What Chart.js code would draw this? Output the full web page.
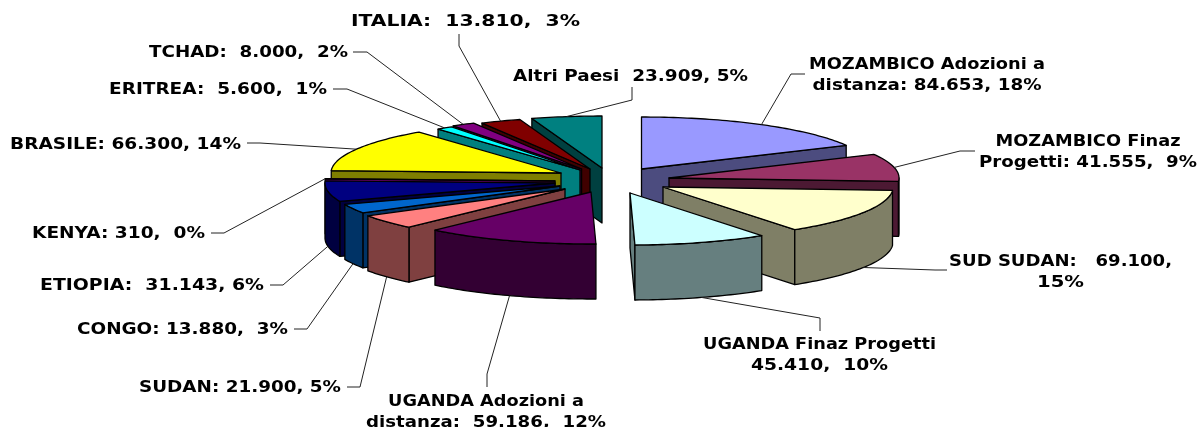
<!DOCTYPE html>
<html>
<head>
<meta charset="utf-8">
<style>html,body{margin:0;padding:0;background:#fff}canvas{display:block}</style>
<script src="https://cdn.jsdelivr.net/npm/chart.js@4/dist/chart.umd.min.js"></script>
</head>
<body>
<canvas id="c" width="1198" height="427"></canvas>
<script>
const categories = ["MOZAMBICO Adozioni a distanza","MOZAMBICO Finaz Progetti","SUD SUDAN","UGANDA Finaz Progetti","UGANDA Adozioni a distanza","SUDAN","CONGO","ETIOPIA","KENYA","BRASILE","ERITREA","TCHAD","ITALIA","Altri Paesi"];
const values = [84653,41555,69100,45410,59186,21900,13880,31143,310,66300,5600,8000,13810,23909];
const colors = ["#9999FF","#993366","#FFFFCC","#CCFFFF","#660066","#FF8080","#0066CC","#000080","#FF00FF","#FFFF00","#00FFFF","#800080","#800000","#008080"];
const labelLines = [
  ["MOZAMBICO Adozioni a","distanza: 84.653, 18%"],
  ["MOZAMBICO Finaz","Progetti: 41.555,  9%"],
  ["SUD SUDAN:   69.100,","15%"],
  ["UGANDA Finaz Progetti","45.410,  10%"],
  ["UGANDA Adozioni a","distanza:  59.186,  12%"],
  ["SUDAN: 21.900, 5%"],
  ["CONGO: 13.880,  3%"],
  ["ETIOPIA:  31.143, 6%"],
  ["KENYA: 310,  0%"],
  ["BRASILE: 66.300, 14%"],
  ["ERITREA:  5.600,  1%"],
  ["TCHAD:  8.000,  2%"],
  ["ITALIA:  13.810,  3%"],
  ["Altri Paesi  23.909, 5%"]
];
// label centre x, first-line middle y
const labelAnchors = [[927,64],[1088,140.5],[1060.5,261],[819.5,344],[486,400.5],[240,387],[182.5,329],[152,285],[118.5,233],[125.5,144],[218,89],[248.5,52],[465.5,21],[630.5,76]];
// rendered width of each label line
const labelWidths = [[236,229],[185,218],[223,47],[233,137],[196,240],[202],[211],[224],[173],[231],[218],[199],[229],[235]];
// leader route from the label back towards the slice
const leaderRoutes = [
  [[805,74],[791,74]],
  [[975,151],[960,151]],
  [[947,270],[935,270]],
  [[820,331],[820,318]],
  [[487,387],[487,374]],
  [[347,387],[360,387]],
  [[294,329],[307,329]],
  [[270,285],[283,285]],
  [[211,233],[224,233]],
  [[247,143],[260,143]],
  [[333,89],[347,89]],
  [[353,52],[367,52]],
  [[459,34],[459,46]],
  [[632,87],[632,100]]
];
// per-slice explosion, relative to the pie centre
const explodeX = [51.5,79,73,40,1,-25,-30,-35,-35,-29,-10,-8.4,0,12];
const explodeY = [-6,3,12,18,17,14,11,8,6,-2,-5,-6,-6,-7];
const RX = 230, RY = 52, DEPTH = 55, LINE_STEP = 21, TEXT_DROP = 1.5;

function shade(hex){
  const n = parseInt(hex.slice(1),16);
  return `rgb(${(n>>16&255)>>1},${(n>>8&255)>>1},${(n&255)>>1})`;
}
const pie3d = {
  id:'pie3d',
  beforeDatasetDraw(chart,args){
    const ctx = chart.ctx, meta = args.meta;
    const slices = meta.data.map((arc,i)=>{
      const p = arc.getProps(['x','y','startAngle','endAngle','outerRadius'],true);
      return {i,cx:p.x+explodeX[i],cy:p.y+explodeY[i],a:p.startAngle,b:p.endAngle,mid:(p.startAngle+p.endAngle)/2};
    });
    const pt = (s,ang,r,z)=>[s.cx+Math.cos(ang)*r*RX, s.cy+Math.sin(ang)*r*RY+z*DEPTH];
    const arcPts = (s,a,b,z)=>{
      const n=Math.max(2,Math.ceil((b-a)/0.02)), o=[];
      for(let k=0;k<=n;k++) o.push(pt(s,a+(b-a)*k/n,1,z));
      return o;
    };
    const poly = (pts,fill)=>{
      ctx.beginPath();
      pts.forEach((q,k)=>k?ctx.lineTo(q[0],q[1]):ctx.moveTo(q[0],q[1]));
      ctx.closePath();ctx.fillStyle=fill;ctx.fill();ctx.stroke();
    };
    ctx.save();
    ctx.lineWidth=1.3;ctx.strokeStyle='#000';ctx.lineJoin='round';
    slices.slice().sort((u,v)=>Math.sin(u.mid)-Math.sin(v.mid)).forEach(s=>{
      const side=shade(colors[s.i]), top=colors[s.i];
      const c=pt(s,s.mid,0.6,0);
      [s.a,s.b].forEach(ang=>{
        const P=pt(s,ang,0,0),Q=pt(s,ang,1,0);
        const dx=Q[0]-P[0];
        if(Math.abs(dx)<0.01) return;
        const yl=P[1]+(Q[1]-P[1])*(c[0]-P[0])/dx;
        if(yl>c[1]) poly([P,Q,[Q[0],Q[1]+DEPTH],[P[0],P[1]+DEPTH]],side);
      });
      const a=Math.max(s.a,0), b=Math.min(s.b,Math.PI);
      if(b>a){
        const t=arcPts(s,a,b,0), u=arcPts(s,a,b,1).reverse();
        poly(t.concat(u),side);
      }
      poly([pt(s,0,0,0)].concat(arcPts(s,s.a,s.b,0)),top);
    });
    // leaders
    ctx.lineWidth=1;ctx.strokeStyle='#222';
    slices.forEach(s=>{
      const z=Math.sin(s.mid)>0?1:0, end=pt(s,s.mid,1,z), r=leaderRoutes[s.i];
      ctx.beginPath();ctx.moveTo(r[0][0],r[0][1]);ctx.lineTo(r[1][0],r[1][1]);ctx.lineTo(end[0],end[1]);ctx.stroke();
    });
    // labels
    ctx.fillStyle='#000';ctx.textAlign='center';ctx.textBaseline='middle';
    ctx.font='bold 15px "DejaVu Sans"';
    labelLines.forEach((ls,i)=>ls.forEach((t,k)=>{
      ctx.save();
      ctx.translate(labelAnchors[i][0],labelAnchors[i][1]+TEXT_DROP+k*LINE_STEP);
      ctx.scale(labelWidths[i][k]/ctx.measureText(t).width,1);
      ctx.fillText(t,0,0);
      ctx.restore();
    }));
    ctx.restore();
    return false;
  }
};
new Chart(document.getElementById('c'),{
  type:'pie',
  data:{labels:categories,datasets:[{data:values,backgroundColor:colors,borderColor:'#000',borderWidth:1}]},
  options:{responsive:false,animation:false,
    layout:{padding:{left:0,right:18,top:0,bottom:77}},
    plugins:{legend:{display:false},tooltip:{enabled:false},title:{display:false}}},
  plugins:[pie3d]
});
</script>
</body>
</html>
